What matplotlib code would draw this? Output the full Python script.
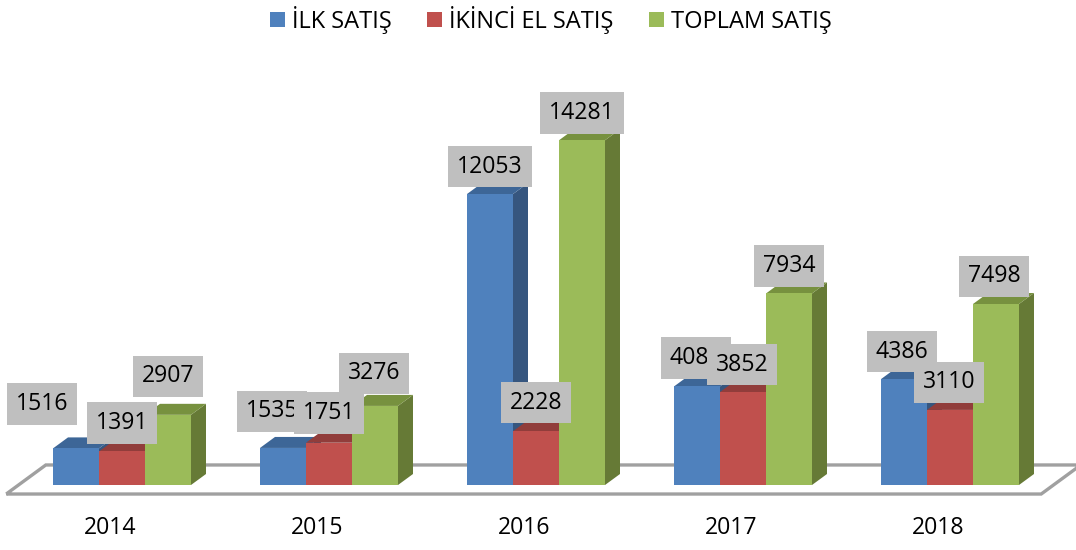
import matplotlib
matplotlib.use("Agg")
import matplotlib.pyplot as plt
from matplotlib.patches import Polygon, Patch

# ---------------- data ----------------
years = ["2014", "2015", "2016", "2017", "2018"]
series_names = ["İLK SATIŞ", "İKİNCİ EL SATIŞ", "TOPLAM SATIŞ"]
ilk_satis = [1516, 1535, 12053, 4082, 4386]
ikinci_el_satis = [1391, 1751, 2228, 3852, 3110]
toplam_satis = [2907, 3276, 14281, 7934, 7498]
series_values = [ilk_satis, ikinci_el_satis, toplam_satis]

# ---------------- style / layout ----------------
front_colors = ["#4f81bd", "#c0504d", "#9bbb59"]
top_colors = ["#3d6697", "#913d3b", "#77913f"]
side_colors = ["#36567f", "#8a3836", "#667a36"]
label_box = "#bfbfbf"
floor_color = "#a0a0a0"
FONT = "Open Sans"
FS = 16.6
LEG_FS = 17

# label nudges in pixels (dx, gap above bar top) per series, per year
label_dx = [[-34, -11, 0, -1, -2], [0, 0, 0, -1, -1], [0, -1, 0, 0, -2]]
label_gap = [[24, 16, 7, 8, 7], [8, 9, 8, 7, 7], [18, 12, 7, 7, 7]]

W, H = 1076, 550
PX_PER_CAT = 207.0      # pixels between groups
PX_PER_VAL = 0.02414    # pixels per unit value
X0 = 122.0              # pixel x of first group
BASE = 485.0            # pixel y of value 0
bar_w = 46.0 / PX_PER_CAT
ddx = 15.0 / PX_PER_CAT     # depth offset (x) in data units
ddy = 11.0 / PX_PER_VAL     # depth offset (y) in data units

fig = plt.figure(figsize=(W / 100, H / 100), dpi=100)
ax = fig.add_axes([0, 0, 1, 1])
ax.set_xlim(-X0 / PX_PER_CAT, (W - X0) / PX_PER_CAT)
ax.set_ylim((BASE - H) / PX_PER_VAL, BASE / PX_PER_VAL)
ax.axis("off")


def proj(x, v, t):
    return (x + t * ddx, v + t * ddy)


# floor (axis plane)
n = len(years)
t_front, t_back = -0.82, 1.82
floor = [proj(-0.5, 0, t_front), proj(n - 0.5, 0, t_front),
         proj(n - 0.5, 0, t_back), proj(-0.5, 0, t_back)]
ax.add_patch(Polygon(floor, closed=True, fill=False, ec=floor_color, lw=2.4,
                     zorder=1, joinstyle="miter"))

# bars
order = 0
for i in range(n):
    for s in range(3):
        v = series_values[s][i]
        xc = i + (s - 1) * bar_w
        xl, xr = xc - bar_w / 2, xc + bar_w / 2
        z = 2 + order * 0.1
        side = [proj(xr, 0, 0), proj(xr, 0, 1), proj(xr, v, 1), proj(xr, v, 0)]
        top = [proj(xl, v, 0), proj(xr, v, 0), proj(xr, v, 1), proj(xl, v, 1)]
        ax.add_patch(Polygon(side, closed=True, fc=side_colors[s], ec="none", zorder=z))
        ax.add_patch(Polygon(top, closed=True, fc=top_colors[s], ec="none", zorder=z + 0.01))
        ax.bar(xc, v, width=bar_w, color=front_colors[s], zorder=z + 0.02, lw=0)
        order += 1

# data labels
for s in range(3):
    for i in range(n):
        v = series_values[s][i]
        xc = i + (s - 1) * bar_w
        ax.annotate(str(v), xy=(xc, v),
                    xytext=(label_dx[s][i], label_gap[s][i] + 20.5),
                    textcoords="offset pixels", ha="center", va="center",
                    fontsize=FS, family=FONT, color="black", zorder=20 + s,
                    bbox=dict(boxstyle="square,pad=0.38", fc=label_box, ec="none"))

# category labels
for i, yr in enumerate(years):
    x, _ = proj(i, 0, t_front)
    ax.text(x, (BASE - 528) / PX_PER_VAL, yr, ha="center", va="center",
            fontsize=FS, family=FONT, color="black")

# legend
handles = [Patch(facecolor=c, edgecolor="none", label=l)
           for c, l in zip(front_colors, series_names)]
fig.legend(handles=handles, loc="upper center", bbox_to_anchor=(0.512, 1.028),
           ncol=3, frameon=False, prop={"family": FONT, "size": LEG_FS},
           handlelength=0.62, handleheight=0.62, handletextpad=0.3,
           columnspacing=1.5)

fig.savefig("out.png", dpi=100)
